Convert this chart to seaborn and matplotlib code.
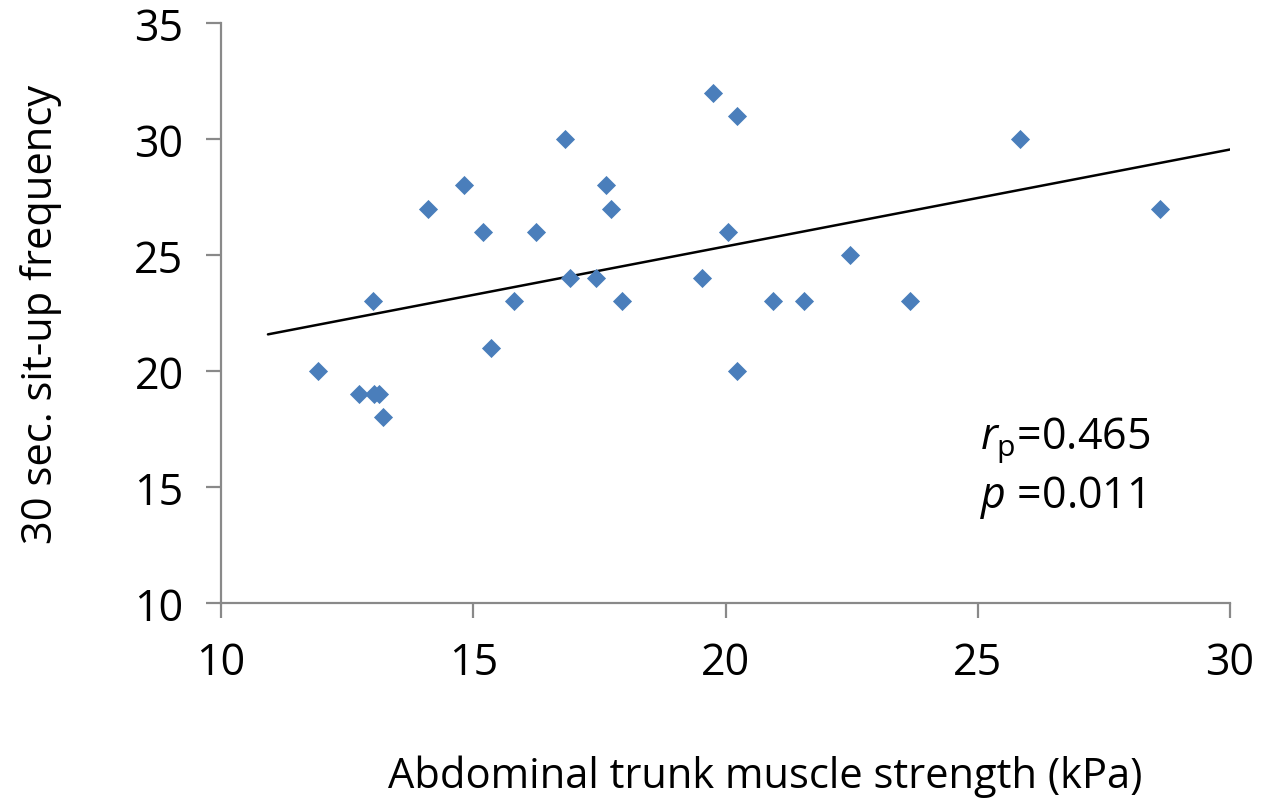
import matplotlib.pyplot as plt
import numpy as np
import pandas as pd
import seaborn as sns

# Valeurs
strength = [11.93, 12.73, 13.02, 13.03, 13.13, 13.21, 14.11, 14.82, 15.20, 15.35,
            15.81, 16.24, 16.82, 16.92, 17.43, 17.63, 17.72, 17.95, 19.53, 19.76,
            20.04, 20.23, 20.23, 20.95, 21.56, 22.47, 23.65, 25.83, 28.62]
situps = [20, 19, 23, 19, 19, 18, 27, 28, 26, 21,
          23, 26, 30, 24, 24, 28, 27, 23, 24, 32,
          26, 31, 20, 23, 23, 25, 23, 30, 27]
x_ticks = [10, 15, 20, 25, 30]
y_ticks = [10, 15, 20, 25, 30, 35]
r_text = "0.465"
p_text = "0.011"

df = pd.DataFrame({"strength": strength, "situps": situps})

sns.set_theme(style="white")
plt.rcParams["font.family"] = ["Open Sans", "DejaVu Sans"]
plt.rcParams["mathtext.fontset"] = "custom"
plt.rcParams["mathtext.rm"] = "Open Sans"
plt.rcParams["mathtext.it"] = "Open Sans:italic"
plt.rcParams["text.color"] = "black"
plt.rcParams["axes.labelcolor"] = "black"

fig = plt.figure(figsize=(12.74, 8.03), dpi=100)
ax = fig.add_axes([0.1735, 0.2478, 0.792, 0.7222])

sns.scatterplot(data=df, x="strength", y="situps", marker="D", s=95,
                color="#4a7ebb", linewidth=0, ax=ax, zorder=3)

# Droite de tendance (moindres carrés), prolongée comme dans Excel
slope, intercept = np.polyfit(df["strength"], df["situps"], 1)
xs = np.array([df["strength"].min() - 1, x_ticks[-1]])
ax.plot(xs, slope * xs + intercept, color="black", linewidth=1.8, zorder=2)

ax.set_xlim(x_ticks[0], x_ticks[-1])
ax.set_ylim(y_ticks[0], y_ticks[-1])
ax.set_xticks(x_ticks)
ax.set_yticks(y_ticks)

for side in ["top", "right"]:
    ax.spines[side].set_visible(False)
for side in ["left", "bottom"]:
    ax.spines[side].set_color("#898989")
    ax.spines[side].set_linewidth(1.6)

ax.tick_params(axis="both", direction="out", length=11, width=1.6,
               color="#898989", labelsize=31, labelcolor="black")
ax.tick_params(axis="x", pad=16, bottom=True)
ax.tick_params(axis="y", pad=16, left=True)

ax.set_xlabel("Abdominal trunk muscle strength (kPa)", fontsize=30)
ax.xaxis.set_label_coords(0.539, -0.262)
ax.set_ylabel("30 sec. sit-up frequency", fontsize=30, labelpad=52)

ax.text(0.752, 0.283, r"$\mathit{r}_\mathrm{p}$=" + r_text, transform=ax.transAxes,
        fontsize=31, va="center", ha="left")
ax.text(0.752, 0.184, r"$\mathit{p}$ =" + p_text, transform=ax.transAxes,
        fontsize=31, va="center", ha="left")

plt.savefig("out.png", dpi=100)
